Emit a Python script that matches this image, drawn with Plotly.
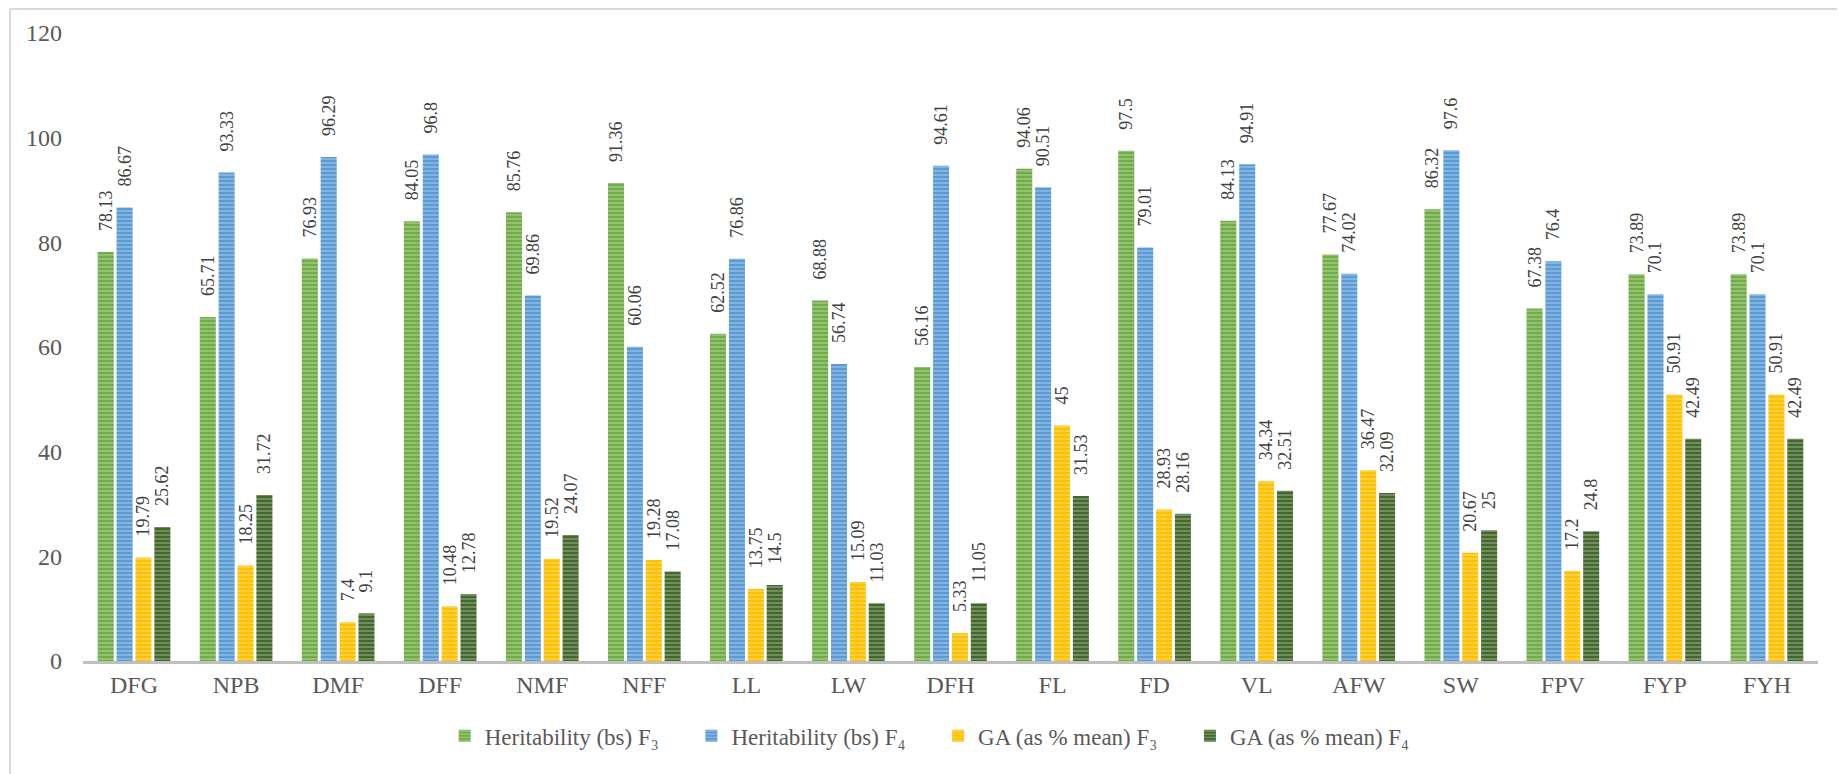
import plotly.graph_objects as go

categories = ["DFG", "NPB", "DMF", "DFF", "NMF", "NFF", "LL", "LW", "DFH",
              "FL", "FD", "VL", "AFW", "SW", "FPV", "FYP", "FYH"]
h_f3 = [78.13, 65.71, 76.93, 84.05, 85.76, 91.36, 62.52, 68.88, 56.16,
        94.06, 97.5, 84.13, 77.67, 86.32, 67.38, 73.89, 73.89]
h_f4 = [86.67, 93.33, 96.29, 96.8, 69.86, 60.06, 76.86, 56.74, 94.61,
        90.51, 79.01, 94.91, 74.02, 97.6, 76.4, 70.1, 70.1]
ga_f3 = [19.79, 18.25, 7.4, 10.48, 19.52, 19.28, 13.75, 15.09, 5.33,
         45, 28.93, 34.34, 36.47, 20.67, 17.2, 50.91, 50.91]
ga_f4 = [25.62, 31.72, 9.1, 12.78, 24.07, 17.08, 14.5, 11.03, 11.05,
         31.53, 28.16, 32.51, 32.09, 25, 24.8, 42.49, 42.49]
series_names = ["Heritability (bs) F\u2083", "Heritability (bs) F\u2084",
                "GA (as % mean) F\u2083", "GA (as % mean) F\u2084"]
colors = ["#70AD47", "#5B9BD5", "#FFC000", "#43682B"]

SERIF = "Liberation Serif, Times New Roman, serif"

fig = go.Figure()
for i, (name, vals, col) in enumerate(zip(series_names, [h_f3, h_f4, ga_f3, ga_f4], colors)):
    pad = "\u00a0" * 4 + "\u2009" if i < 3 else ""
    fig.add_trace(go.Bar(
        x=categories, y=vals, name=name + pad,
        marker=dict(color=col, line=dict(width=0),
                    pattern=dict(shape="-", fgcolor="white", fgopacity=0.35,
                                 size=4, solidity=0.35, fillmode="overlay")),
        text=["\u2002\u2002" + f"{v:g}" for v in vals],
        textposition="outside", textangle=-90,
        textfont=dict(family=SERIF, size=18, color="#404040"),
        cliponaxis=False, constraintext="none",
    ))

# the page body has an 8px default margin, so the figure is offset by 8px
OFF = 8
W, H = 1845 - OFF, 774 - OFF
L, R, T = 83 - OFF, 27, 33 - OFF
B = H - (661 - OFF)
pw, ph = W - L - R, H - T - B
fig.update_layout(
    width=W, height=H,
    margin=dict(l=L, r=R, t=T, b=B, autoexpand=False),
    barmode="group", bargap=0.26, bargroupgap=0.15,
    plot_bgcolor="white", paper_bgcolor="white",
    font=dict(family=SERIF, color="#595959"),
    xaxis=dict(showline=True, linecolor="#BFBFBF", linewidth=3, automargin=False,
               tickfont=dict(size=24), ticks="", showgrid=False),
    yaxis=dict(range=[0, 120], dtick=20, showgrid=False, zeroline=False,
               automargin=False, ticklabelstandoff=20,
               tickfont=dict(size=24), ticks="", ticklen=0),
    legend=dict(orientation="h", x=0.488, xanchor="center", y=-0.085, yanchor="top",
                font=dict(size=23), itemwidth=30, traceorder="normal"),
    shapes=[
        dict(type="line", xref="paper", yref="paper",
             x0=(2 - L) / pw, x1=(W + 5 - L) / pw,
             y0=(H - B - 1) / ph, y1=(H - B - 1) / ph,
             line=dict(color="#D9D9D9", width=2)),
        dict(type="line", xref="paper", yref="paper",
             x0=(2 - L) / pw, x1=(2 - L) / pw,
             y0=(H - B - 1) / ph, y1=(H - B - H - 5) / ph,
             line=dict(color="#D9D9D9", width=2)),
    ],
)
fig.write_html("out.html")
